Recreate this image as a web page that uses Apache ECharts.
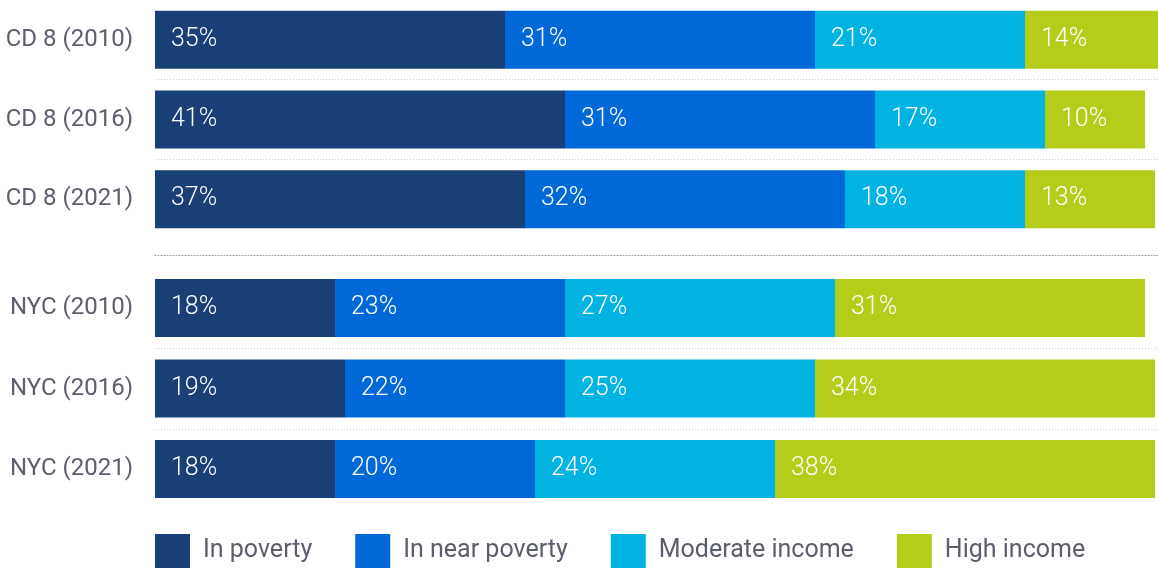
<!DOCTYPE html>
<html>
<head>
<meta charset="utf-8">
<script src="https://cdn.jsdelivr.net/npm/echarts@6/dist/echarts.min.js"></script>
<style>
  html, body { margin: 0; padding: 0; background: #fff; }
  #chart { width: 1158px; height: 569px; }
</style>
</head>
<body>
<div id="chart"></div>
<script>
// Household income distribution, CD 8 vs NYC
const cd8Categories = ['CD 8 (2010)', 'CD 8 (2016)', 'CD 8 (2021)'];
const nycCategories = ['NYC (2010)', 'NYC (2016)', 'NYC (2021)'];
const seriesNames = ['In poverty', 'In near poverty', 'Moderate income', 'High income'];

const cd8Poverty = [35, 41, 37];
const cd8NearPoverty = [31, 31, 32];
const cd8Moderate = [21, 17, 18];
const cd8High = [14, 10, 13];

const nycPoverty = [18, 19, 18];
const nycNearPoverty = [23, 22, 20];
const nycModerate = [27, 25, 24];
const nycHigh = [31, 34, 38];

const colors = ['#183f76', '#0069d7', '#00b3e3', '#b5cd1a'];
const FONT = 'Roboto, "Noto Sans", sans-serif';
const TEXT_GRAY = '#5c5e6b';

const cd8Values = [cd8Poverty, cd8NearPoverty, cd8Moderate, cd8High];
const nycValues = [nycPoverty, nycNearPoverty, nycModerate, nycHigh];

function makeSeries(values, gridIdx) {
  return values.map((vals, i) => ({
    name: seriesNames[i],
    type: 'bar',
    stack: 'total' + gridIdx,
    xAxisIndex: gridIdx,
    yAxisIndex: gridIdx,
    barWidth: 58,
    itemStyle: { color: colors[i] },
    label: {
      show: true,
      position: 'insideLeft',
      distance: 16,
      formatter: '{c}%',
      color: '#ffffff',
      fontFamily: FONT,
      fontWeight: 300,
      fontSize: 25
    },
    data: vals
  }));
}

const rowSplit = {
  show: true,
  showMinLine: false,
  showMaxLine: false,
  lineStyle: { color: '#cdcdcd', width: 1, type: [1, 2] }
};

function catAxis(gridIdx, cats) {
  return {
    type: 'category',
    gridIndex: gridIdx,
    data: cats,
    inverse: true,
    axisLine: { show: false },
    axisTick: { show: false },
    axisLabel: {
      margin: 22,
      color: TEXT_GRAY,
      fontFamily: FONT,
      fontSize: 24
    },
    splitLine: rowSplit
  };
}

const option = {
  animation: false,
  backgroundColor: '#ffffff',
  grid: [
    { left: 155, right: 0, top: -2.5, height: 241.5 },
    { left: 155, right: 0, top: 267.75, height: 241.5 }
  ],
  xAxis: [
    {
      type: 'value', gridIndex: 0, min: 0, max: 100.3,
      position: 'bottom', offset: 16,
      axisLine: { show: true, lineStyle: { color: '#9a9a9a', width: 1, type: [1, 2] } },
      axisTick: { show: false }, axisLabel: { show: false }, splitLine: { show: false }
    },
    {
      type: 'value', gridIndex: 1, min: 0, max: 100.3, show: false,
      splitLine: { show: false }
    }
  ],
  yAxis: [catAxis(0, cd8Categories), catAxis(1, nycCategories)],
  legend: {
    data: seriesNames,
    left: 155,
    top: 534,
    padding: 0,
    icon: 'rect',
    itemWidth: 35,
    itemHeight: 34,
    itemGap: 43,
    textStyle: {
      color: TEXT_GRAY,
      fontFamily: FONT,
      fontSize: 25,
      padding: [9, 0, 0, 8]
    }
  },
  series: [...makeSeries(cd8Values, 0), ...makeSeries(nycValues, 1)]
};

const chart = echarts.init(document.getElementById('chart'), null, { renderer: 'canvas' });
chart.setOption(option);
</script>
</body>
</html>
